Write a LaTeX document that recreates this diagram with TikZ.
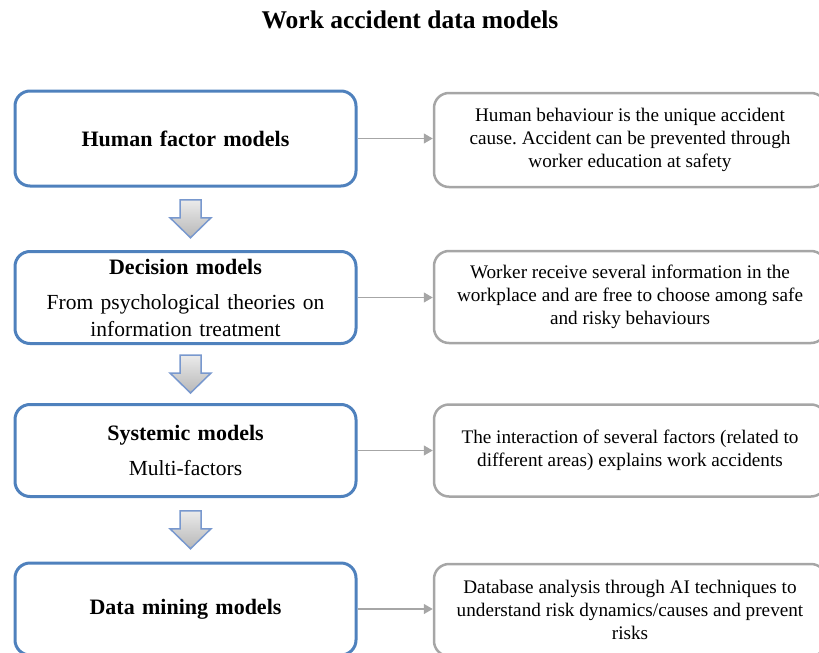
\documentclass[tikz,border=0pt]{standalone}
\usepackage{fontspec}
\setmainfont{Liberation Serif}
\usetikzlibrary{arrows.meta,positioning}
\definecolor{boxblue}{RGB}{79,129,189}
\definecolor{boxgray}{RGB}{166,166,166}
\definecolor{arrowblue}{RGB}{120,152,206}
\frenchspacing
\tikzset{
	modelbox/.style={draw=boxblue,line width=3pt,rounded corners=15pt,minimum width=341pt,minimum height=92pt,text width=330pt,align=center,inner sep=0pt,font=\fontsize{22}{26}\selectfont\bfseries},
	notebox/.style={draw=boxgray,line width=2.5pt,rounded corners=15pt,minimum width=392pt,minimum height=92pt,align=center,inner sep=0pt,font=\fontsize{19.2}{23}\selectfont},
	link/.style={draw=boxgray,line width=1.3pt,-{Triangle[length=9pt,width=10pt]}},
	downarrow/.style={draw=arrowblue,line width=1.5pt,top color=white!92!black,bottom color=white!72!black,line join=miter},
}
\begin{document}
\begin{tikzpicture}[x=1pt,y=-1pt]
	\useasboundingbox (0,0) rectangle (819,653);
	% title
		\node[font=\fontsize{25.5}{30}\selectfont\bfseries] (title) at (410,20) {Work accident data models};
	% models on the left
		\node[modelbox,minimum height=95pt] (h1) at (185.5,138.5) {Human factor models};
		\node[modelbox] (h2) at (185.5,297.5) {Decision models\par\vspace{8pt}{\normalfont\fontsize{21.5}{27}\selectfont From psychological theories on\\ information treatment\par}};
		\node[modelbox] (h3) at (185.5,450.5) {Systemic models\par\vspace{8pt}{\normalfont\fontsize{21.5}{27}\selectfont Multi-factors\par}};
		\node[modelbox] (h4) at (185.5,609) {Data mining models};
	% descriptions on the right
		\node[notebox,minimum height=94pt] (d1) at (630,140) {Human behaviour is the unique accident\\ cause. Accident can be prevented through\\ worker education at safety};
		\node[notebox] (d2) at (630,297) {Worker receive several information in the\\ workplace and are free to choose among safe\\ and risky behaviours};
		\node[notebox] (d3) at (630,450.5) {The interaction of several factors (related to\\ different areas) explains work accidents};
		\node[notebox] (d4) at (630,610) {Database analysis through AI techniques to\\ understand risk dynamics/causes and prevent\\ risks};
	% links
		\foreach \i in {1,...,4}
			\draw[link] (h\i.east) -- (h\i.east -| d\i.west);
	% block arrows between the models
		\foreach \a/\b in {h1/h2,h2/h3,h3/h4} {
			\path (\a.south) -- (\b.north) coordinate[pos=.5] (m\a);
			\path[downarrow] ([xshift=5pt]m\a) ++(-10.5,-19) -- ++(21,0) -- ++(0,18) -- ++(10,0) -- ++(-20.5,20) -- ++(-20.5,-20) -- ++(10,0) -- cycle;
		}
\end{tikzpicture}
\end{document}
